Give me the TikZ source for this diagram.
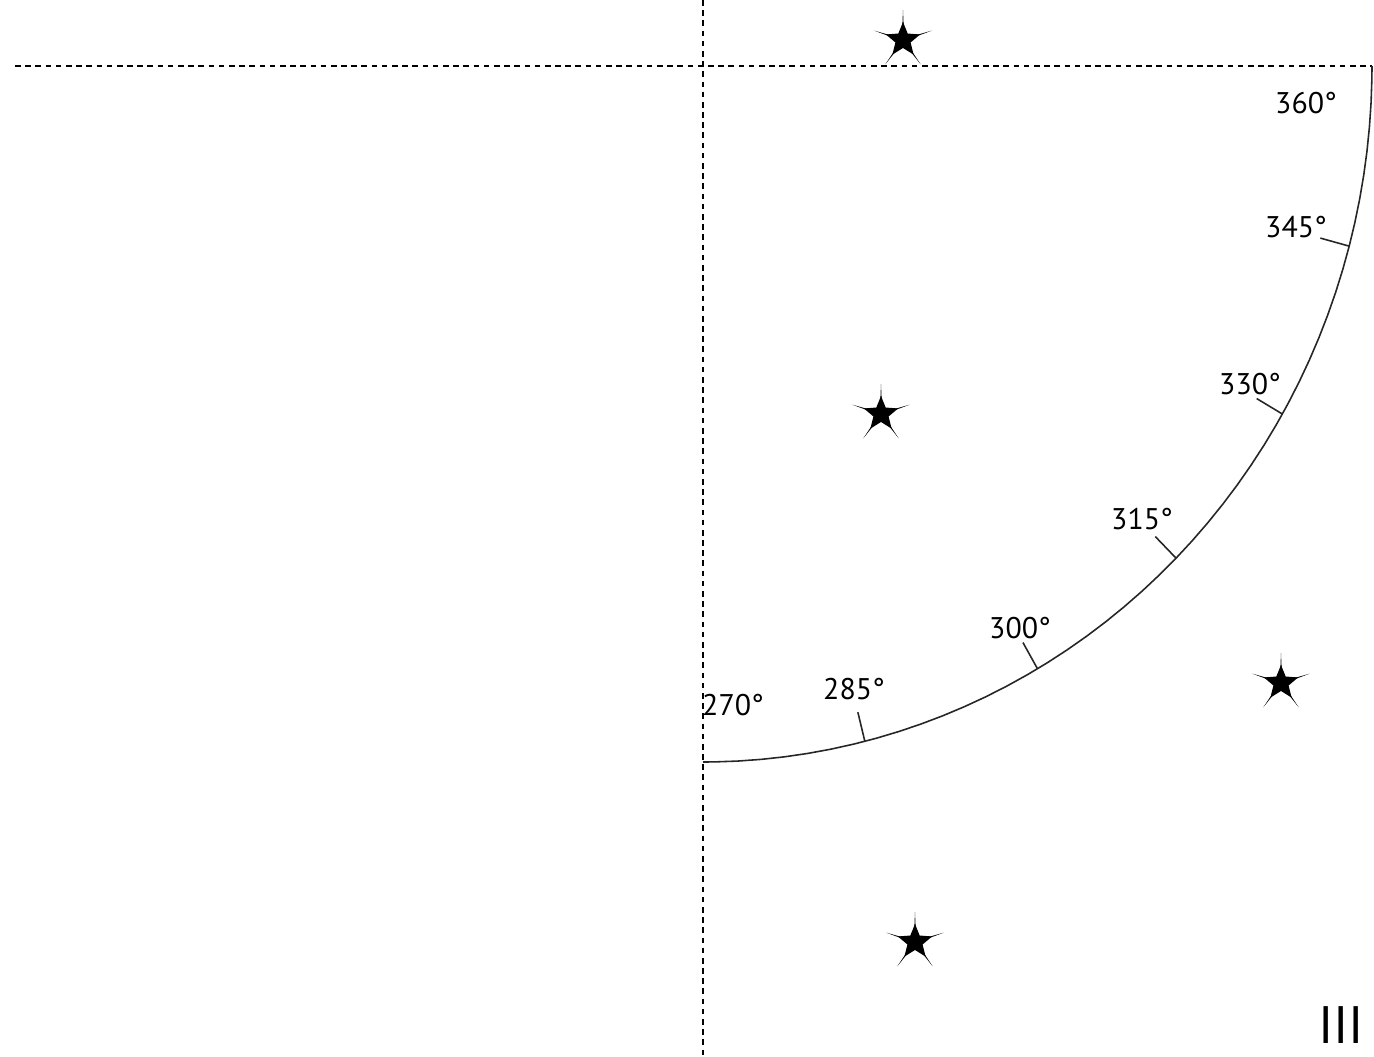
\documentclass[tikz,border=0pt]{standalone}
\usepackage{fontspec}
\setmainfont{PT Sans}
\usetikzlibrary{calc}
\tikzset{
  guide/.style={dash pattern=on 3.2pt off 2.6pt, line width=0.75pt},
  rim/.style={line width=0.9pt, black!85},
  tick/.style={line width=0.9pt, black!85},
  deg/.style={font=\fontsize{17}{17}\selectfont, inner sep=0pt},
  spark/.pic={
    \fill[black] (90:0.6cm) \foreach \k in {1,...,5} {-- ({54+72*\k}:0.04cm) -- ({90+72*\k}:0.6cm)} -- cycle;
    \fill[black] (90:0.36cm) \foreach \k in {1,...,5} {-- ({54+72*\k}:0.16cm) -- ({90+72*\k}:0.36cm)} -- cycle;
  },
}

\begin{document}
\begin{tikzpicture}[x=0.02cm, y=-0.02cm]
    \useasboundingbox (0,0) rectangle (1374,1056);
    % axes
    \coordinate (O) at (703,66);
    \coordinate (vtop) at (703,0);
    \coordinate (vbot) at (703,1056);
    \coordinate (hleft) at (15,66);
    \coordinate (hright) at (1372,66);
    \draw[guide] (vtop) -- (vbot);
    \draw[guide] (hleft) -- (hright);
    % quarter rim
    \coordinate (E) at (1372,66);
    \draw[rim] (E) \foreach \a in {359,357,...,271,270} {-- ({703+669*cos(\a)},{66-696*sin(\a)})};
    \foreach \n/\a in {285/284,300/300,315/315,330/330,345/345} {
      \coordinate (t\n) at ({703+669*cos(\a)},{66-696*sin(\a)});
      \draw[tick] (t\n) -- ($(t\n)!0.6cm!(O)$);
    }
    % labels
    \node[deg] (l360) at (1306,103) {360°};
    \node[deg] (l345) at (1296,227) {345°};
    \node[deg] (l330) at (1250,384) {330°};
    \node[deg] (l315) at (1142,519) {315°};
    \node[deg] (l300) at (1020,628) {300°};
    \node[deg] (l285) at (854,689) {285°};
    \node[deg] (l270) at (733,705) {270°};
    \node[font=\fontsize{30}{30}\selectfont, inner sep=0pt] (quad) at (1341,1025) {III};
    % stars
    \foreach \n/\x/\y in {s1/903/40, s2/881/414, s3/1281/683, s4/915/942} {
      \coordinate (\n) at (\x,\y);
      \pic at (\x,\y) {spark};
    }
\end{tikzpicture}
\end{document}
